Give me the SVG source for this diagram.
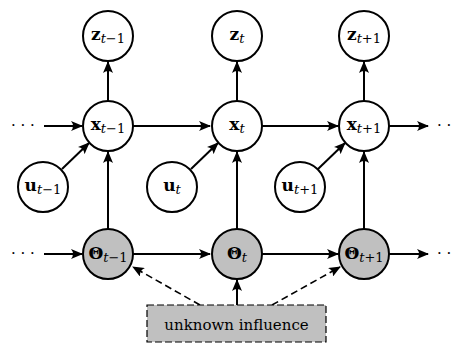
<svg xmlns="http://www.w3.org/2000/svg" width="453" height="343" viewBox="0 0 453 343">
<defs>
<marker id="ah" viewBox="0 0 12 10" refX="11" refY="5" markerWidth="12" markerHeight="10" markerUnits="userSpaceOnUse" orient="auto">
<path d="M0,0 L12,5 L0,10 Q4,5 0,0 Z" fill="#000"/>
</marker>
</defs>
<style>
.n{fill:#fff;stroke:#000;stroke-width:2}
.g{fill:#c0c0c0;stroke:#000;stroke-width:2}
.e{stroke:#000;stroke-width:2;fill:none;marker-end:url(#ah)}
.d{stroke:#000;stroke-width:1.6;fill:none;stroke-dasharray:7,4;marker-end:url(#ah)}
.v{font-size:17px;font-weight:bold;text-anchor:middle;fill:#000}
.s{font-size:13px;font-style:italic;font-weight:normal}
.sn{font-size:13px;font-style:normal;font-weight:normal}
.lb{font-size:15px;text-anchor:middle;fill:#000}
.dots{font-size:15px;fill:#000}
</style>
<g id="connectors">
<line class="e" x1="44" y1="126" x2="82" y2="126"/>
<line class="e" x1="133" y1="126" x2="210" y2="126"/>
<line class="e" x1="262" y1="126" x2="338" y2="126"/>
<line class="e" x1="389" y1="126" x2="428" y2="126"/>
<line class="e" x1="44" y1="254" x2="82" y2="254"/>
<line class="e" x1="133" y1="254" x2="210" y2="254"/>
<line class="e" x1="262" y1="254" x2="338" y2="254"/>
<line class="e" x1="389" y1="254" x2="428" y2="254"/>
<line class="e" x1="108" y1="101" x2="108" y2="62"/>
<line class="e" x1="237" y1="101" x2="237" y2="62"/>
<line class="e" x1="364" y1="101" x2="364" y2="62"/>
<line class="e" x1="108" y1="229" x2="108" y2="152"/>
<line class="e" x1="237" y1="229" x2="237" y2="152"/>
<line class="e" x1="364" y1="229" x2="364" y2="152"/>
<line class="e" x1="62" y1="169" x2="89" y2="143"/>
<line class="e" x1="191" y1="169" x2="218" y2="143"/>
<line class="e" x1="318" y1="169" x2="345" y2="143"/>
<line class="d" x1="200" y1="305" x2="133" y2="267"/>
<line class="d" x1="272" y1="305" x2="340" y2="267"/>
<line class="e" x1="237" y1="305" x2="237" y2="280"/>
</g>
<g font-family="'DejaVu Serif', serif">
<g id="z_tm1"><circle class="n" cx="108" cy="36" r="25"/><text class="v" x="108" y="40">z<tspan class="s" dy="3">t</tspan><tspan class="sn">−1</tspan></text></g>
<g id="z_t"><circle class="n" cx="237" cy="36" r="25"/><text class="v" x="237" y="40">z<tspan class="s" dy="3">t</tspan></text></g>
<g id="z_tp1"><circle class="n" cx="364" cy="36" r="25"/><text class="v" x="364" y="40">z<tspan class="s" dy="3">t</tspan><tspan class="sn">+1</tspan></text></g>
<g id="x_tm1"><circle class="n" cx="108" cy="126" r="25"/><text class="v" x="108" y="130">x<tspan class="s" dy="3">t</tspan><tspan class="sn">−1</tspan></text></g>
<g id="x_t"><circle class="n" cx="237" cy="126" r="25"/><text class="v" x="237" y="130">x<tspan class="s" dy="3">t</tspan></text></g>
<g id="x_tp1"><circle class="n" cx="364" cy="126" r="25"/><text class="v" x="364" y="130">x<tspan class="s" dy="3">t</tspan><tspan class="sn">+1</tspan></text></g>
<g id="u_tm1"><circle class="n" cx="43" cy="187" r="25"/><text class="v" x="43" y="191">u<tspan class="s" dy="3">t</tspan><tspan class="sn">−1</tspan></text></g>
<g id="u_t"><circle class="n" cx="172" cy="187" r="25"/><text class="v" x="172" y="191">u<tspan class="s" dy="3">t</tspan></text></g>
<g id="u_tp1"><circle class="n" cx="300" cy="187" r="25"/><text class="v" x="300" y="191">u<tspan class="s" dy="3">t</tspan><tspan class="sn">+1</tspan></text></g>
<g id="th_tm1"><circle class="g" cx="108" cy="254" r="25"/><text class="v" x="108" y="259">Θ<tspan class="s" dy="3">t</tspan><tspan class="sn">−1</tspan></text></g>
<g id="th_t"><circle class="g" cx="237" cy="254" r="25"/><text class="v" x="237" y="259">Θ<tspan class="s" dy="3">t</tspan></text></g>
<g id="th_tp1"><circle class="g" cx="364" cy="254" r="25"/><text class="v" x="364" y="259">Θ<tspan class="s" dy="3">t</tspan><tspan class="sn">+1</tspan></text></g>
<g id="unknown"><rect x="147" y="305" width="179" height="37" fill="#c0c0c0" stroke="#000" stroke-width="1.2" stroke-dasharray="7,3"/><text class="lb" x="236.5" y="330">unknown influence</text></g>
<g id="dots">
<text class="dots" x="11" y="130">· · ·</text>
<text class="dots" x="11" y="258">· · ·</text>
<text class="dots" x="437" y="130">· ·</text>
<text class="dots" x="437" y="258">· ·</text>
</g>
</g>
</svg>
